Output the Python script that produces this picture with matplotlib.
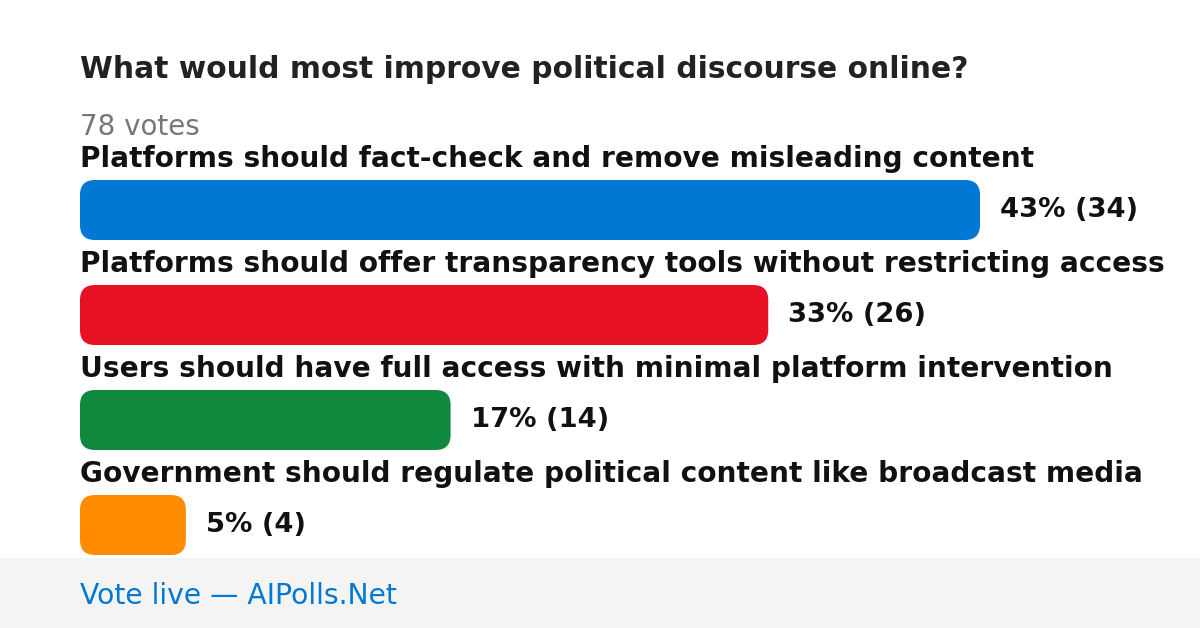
import matplotlib
matplotlib.use("Agg")
import matplotlib.pyplot as plt
from matplotlib.patches import FancyBboxPatch, Rectangle

title = "What would most improve political discourse online?"
total_label = "78 votes"
categories = [
    "Platforms should fact-check and remove misleading content",
    "Platforms should offer transparency tools without restricting access",
    "Users should have full access with minimal platform intervention",
    "Government should regulate political content like broadcast media",
]
votes = [34, 26, 14, 4]
percents = [43, 33, 17, 5]
colors = ["#0078d4", "#e81123", "#10893e", "#ff8c00"]
footer = "Vote live — AIPolls.Net"

W, H, DPI = 1200, 628, 100
fig = plt.figure(figsize=(W / DPI, H / DPI), dpi=DPI)
fig.patch.set_facecolor("white")

bg = fig.add_axes([0, 0, 1, 1])
bg.set_xlim(0, W)
bg.set_ylim(H, 0)
bg.axis("off")

bg.add_patch(Rectangle((0, 558), W, H - 558, facecolor="#f4f4f4", edgecolor="none"))
bg.text(80, 69, title, fontsize=21.4, fontweight="bold", color="#222222",
        va="center", ha="left", family="DejaVu Sans")
bg.text(80, 127, total_label, fontsize=20, color="#777777",
        va="center", ha="left", family="DejaVu Sans")
bg.text(80, 596, footer, fontsize=20.3, color="#0078d4",
        va="center", ha="left", family="DejaVu Sans")

row_pitch = 105
label_y0 = 159
bar_top0 = 180
bar_h = 60
for i, cat in enumerate(categories):
    bg.text(80, label_y0 + i * row_pitch, cat, fontsize=20.2, fontweight="bold",
            color="#111111", va="center", ha="left", family="DejaVu Sans")

x0, x1 = 80, 980
y_top, y_bot = 180, 555
ax = fig.add_axes([x0 / W, 1 - y_bot / H, (x1 - x0) / W, (y_bot - y_top) / H])
ax.set_xlim(0, max(votes))
ax.set_ylim(y_bot, y_top)
ax.axis("off")
ax.patch.set_alpha(0)

px_per_vote = (x1 - x0) / max(votes)
radius_px = 15
for i, (v, p, c) in enumerate(zip(votes, percents, colors)):
    top = bar_top0 + i * row_pitch
    patch = FancyBboxPatch((0, top), v, bar_h,
                           boxstyle=f"round,pad=0,rounding_size={radius_px / px_per_vote}",
                           mutation_aspect=px_per_vote,
                           facecolor=c, edgecolor="none", clip_on=False)
    ax.add_patch(patch)
    ax.annotate(f"{p}% ({v})", xy=(v, top + bar_h / 2), xytext=(20 * 72 / DPI, 0),
                textcoords="offset points", fontsize=19.7, fontweight="bold",
                color="#111111", va="center", ha="left", family="DejaVu Sans",
                annotation_clip=False)

fig.savefig("out.png", dpi=DPI, facecolor="white")
